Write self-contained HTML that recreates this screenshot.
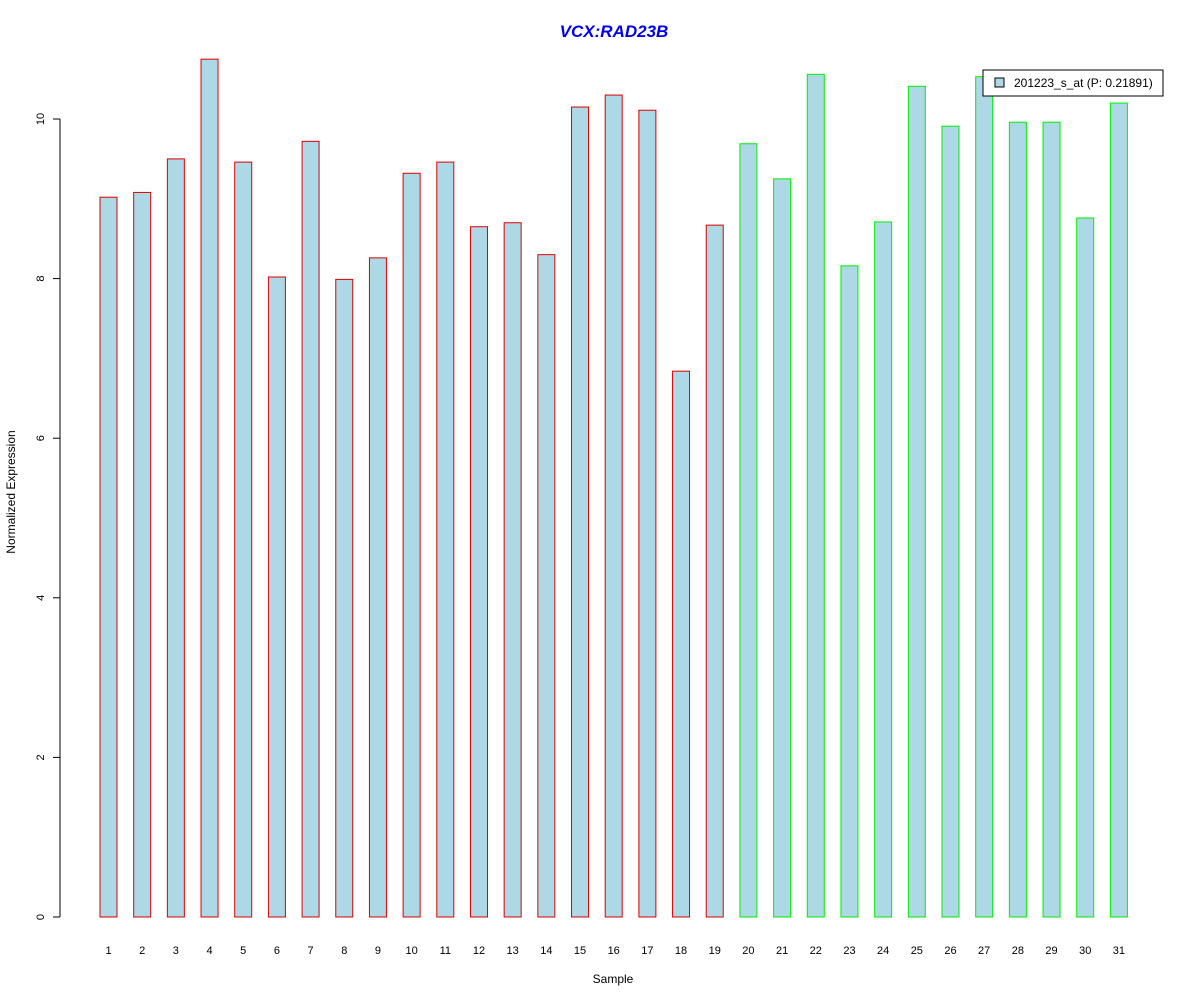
<!DOCTYPE html>
<html><head><meta charset="utf-8"><style>
body{margin:0;background:#fff;}
svg{display:block;font-family:"Liberation Sans",Arial,sans-serif;}
</style></head><body>
<svg id="chart" width="1200" height="1000" viewBox="0 0 1200 1000">
<text x="614" y="37" text-anchor="middle" font-size="17" font-weight="bold" font-style="italic" fill="#0000ee">VCX:RAD23B</text>
<text x="613" y="983" text-anchor="middle" font-size="12">Sample</text>
<text transform="translate(15,492) rotate(-90)" text-anchor="middle" font-size="12">Normalized Expression</text>
<g id="bars"></g>
<g id="yaxis"></g>
<g id="xlabels"></g>
<g>
<rect x="983" y="70" width="180" height="26" fill="#fff" stroke="#000" stroke-width="1"/>
<rect x="995" y="78" width="9" height="9" fill="#add8e6" stroke="#000" stroke-width="1"/>
<text x="1014" y="87" font-size="12">201223_s_at (P: 0.21891)</text>
</g>
</svg>
<script>
const categories=["1","2","3","4","5","6","7","8","9","10","11","12","13","14","15","16","17","18","19","20","21","22","23","24","25","26","27","28","29","30","31"];
const values=[9.02,9.08,9.50,10.75,9.46,8.02,9.72,7.99,8.26,9.32,9.46,8.65,8.70,8.30,10.15,10.30,10.11,6.84,8.67,9.69,9.25,10.56,8.16,8.71,10.41,9.91,10.53,9.96,9.96,8.76,10.20];
const groups=[0,0,0,0,0,0,0,0,0,0,0,0,0,0,0,0,0,0,0,1,1,1,1,1,1,1,1,1,1,1,1];
const yTicks=[0,2,4,6,8,10];
const NS="http://www.w3.org/2000/svg";
const y=v=>917-v*79.8;
const x=i=>108.5+i*33.68;
const bars=document.getElementById('bars');
values.forEach((v,i)=>{
 const r=document.createElementNS(NS,'rect');
 
 
 r.setAttribute('x',x(i)-8.5);r.setAttribute('width',17);
 r.setAttribute('y',y(v));r.setAttribute('height',y(0)-y(v));
 r.setAttribute('fill','#add8e6');
 r.setAttribute('stroke',groups[i]?'#00ee00':'#dd0000');
 bars.appendChild(r);
 const t=document.createElementNS(NS,'text');
 
 
 t.setAttribute('x',x(i));t.setAttribute('y',954);
 t.setAttribute('text-anchor','middle');t.setAttribute('font-size','11');
 t.textContent=categories[i];
 document.getElementById('xlabels').appendChild(t);
});
const ya=document.getElementById('yaxis');
const l=document.createElementNS(NS,'line');


l.setAttribute('x1',60);l.setAttribute('x2',60);l.setAttribute('y1',y(0));l.setAttribute('y2',y(10));l.setAttribute('stroke','#000');
ya.appendChild(l);
yTicks.forEach(v=>{
 const tk=document.createElementNS(NS,'line');
 
 
 tk.setAttribute('x1',53);tk.setAttribute('x2',60);tk.setAttribute('y1',y(v));tk.setAttribute('y2',y(v));tk.setAttribute('stroke','#000');
 ya.appendChild(tk);
 const t=document.createElementNS(NS,'text');
 
 
 t.setAttribute('transform','translate(44,'+y(v)+') rotate(-90)');
 t.setAttribute('text-anchor','middle');t.setAttribute('font-size','11');
 t.textContent=v;
 ya.appendChild(t);
});
</script>
</body></html>
